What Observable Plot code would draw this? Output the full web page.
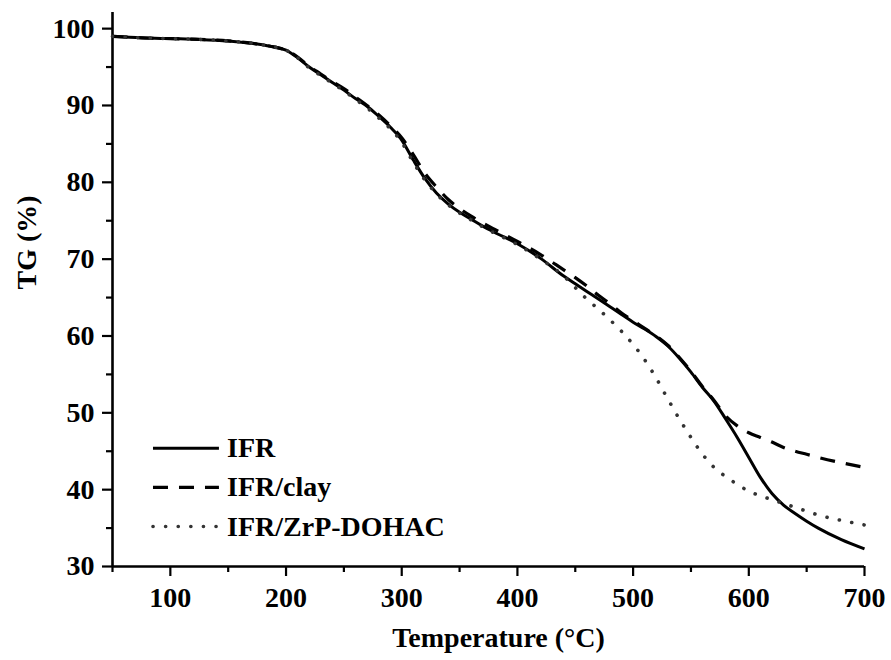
<!DOCTYPE html>
<html><head><meta charset="utf-8">
<script src="https://cdn.jsdelivr.net/npm/d3@7"></script>
<script src="https://cdn.jsdelivr.net/npm/@observablehq/plot@0.6"></script>
<style>body{margin:0;background:#fff}</style>
</head><body><div id="chart"></div>
<script>
const temps = [50,75,100,125,150,175,190,200,210,220,230,240,250,260,270,280,290,300,310,320,330,340,350,360,370,380,400,420,440,450,460,470,480,490,500,510,520,530,540,550,560,570,580,590,600,610,620,630,640,650,660,680,700];
const ifr = [99.0,98.8,98.7,98.6,98.4,98.0,97.6,97.2,96.2,95.0,94.0,93.0,92.0,90.9,89.9,88.6,87.2,85.5,82.9,80.5,78.6,77.2,76.1,75.2,74.3,73.5,72.0,70.1,67.8,66.8,65.8,64.8,63.8,62.8,61.8,60.9,59.9,58.7,57.1,55.3,53.3,51.5,49.2,46.8,44.2,41.6,39.5,38.0,36.9,35.9,35.0,33.5,32.3];
const ifrClay = [99.0,98.8,98.7,98.6,98.4,98.0,97.6,97.2,96.3,95.1,94.1,93.1,92.2,91.1,90.0,88.8,87.4,85.8,83.6,81.2,79.4,77.8,76.6,75.6,74.7,73.9,72.3,70.6,68.6,67.6,66.5,65.3,64.2,63.0,62.0,61.0,60.0,58.8,57.2,55.4,53.4,51.6,49.6,48.3,47.4,46.8,46.2,45.5,45.0,44.6,44.2,43.5,42.9];
const ifrZrp = [99.0,98.8,98.7,98.6,98.4,98.0,97.6,97.2,96.2,94.9,93.9,92.9,91.9,90.8,89.7,88.4,87.0,85.2,82.6,80.3,78.5,77.1,76.0,75.1,74.2,73.4,71.9,70.0,67.8,66.3,64.8,63.5,62.1,60.6,58.9,56.9,54.5,51.8,49.2,46.8,44.6,42.9,41.7,40.7,39.8,39.2,38.7,38.2,37.7,37.2,36.7,36.0,35.4];
const seriesNames = ["IFR", "IFR/clay", "IFR/ZrP-DOHAC"];
const xMajorTicks = [100,200,300,400,500,600,700];
const xMinorTicks = [50,150,250,350,450,550,650];
const yMajorTicks = [30,40,50,60,70,80,90,100];
const yMinorTicks = [35,45,55,65,75,85,95];
const xTitle = "Temperature (°C)";
const yTitle = "TG (%)";

const allSeries = [ifr, ifrClay, ifrZrp];
const rows = allSeries.flatMap((vals, i) => temps.map((t, j) => ({series: seriesNames[i], t, v: vals[j]})));

const styles = {
  "IFR": {stroke: "#000", strokeWidth: 3, strokeDasharray: null, strokeLinecap: "butt"},
  "IFR/clay": {stroke: "#000", strokeWidth: 3.2, strokeDasharray: "15,11", strokeLinecap: "butt"},
  "IFR/ZrP-DOHAC": {stroke: "#333", strokeWidth: 3.6, strokeDasharray: "0.1,12.5", strokeLinecap: "round"}
};

// legend layout (in chart coordinates)
const legendX = [85, 142];
const legendY = [45.4, 40.3, 35.2];
const legendRows = seriesNames.flatMap((s, i) => legendX.map(x => ({series: s, x, y: legendY[i]})));
const legendText = seriesNames.map((s, i) => ({series: s, x: 149, y: legendY[i]}));

const lineMarks = seriesNames.map(s => Plot.line(rows.filter(d => d.series === s), {x: "t", y: "v", curve: "monotone-x", ...styles[s]}));
const legendMarks = seriesNames.map(s => Plot.line(legendRows.filter(d => d.series === s), {x: "x", y: "y", ...styles[s]}));

const chart = Plot.plot({
  width: 891,
  height: 660,
  marginLeft: 112,
  marginRight: 27,
  marginTop: 12,
  marginBottom: 94,
  style: {fontFamily: "'Liberation Serif', 'Times New Roman', serif", fontWeight: "bold", fontSize: "28px", color: "#000", background: "#fff"},
  x: {domain: [50, 700]},
  y: {domain: [30, 102.1]},
  marks: [
    Plot.axisX({ticks: xMajorTicks, tickSize: 10, tickPadding: 11, strokeWidth: 2.2, label: null, fontSize: 28, fontWeight: "bold"}),
    Plot.axisX({ticks: xMinorTicks, tickSize: 6, strokeWidth: 2.2, label: null, text: null}),
    Plot.axisY({ticks: yMajorTicks, tickSize: 10, tickPadding: 8, strokeWidth: 2.2, label: null, fontSize: 28, fontWeight: "bold"}),
    Plot.axisY({ticks: yMinorTicks, tickSize: 6, strokeWidth: 2.2, label: null, text: null}),
    Plot.ruleX([50], {strokeWidth: 2.6}),
    Plot.ruleY([30], {strokeWidth: 2.6}),
    ...lineMarks,
    ...legendMarks,
    Plot.text(legendText, {x: "x", y: "y", text: "series", textAnchor: "start", fontSize: 28, fontWeight: "bold"}),
    Plot.text([xTitle], {frameAnchor: "bottom", dx: 10, dy: 80, fontSize: 28, fontWeight: "bold"}),
    Plot.text([yTitle], {frameAnchor: "left", dx: -85, rotate: -90, fontSize: 28, fontWeight: "bold"})
  ]
});
document.getElementById("chart").appendChild(chart);
</script>
</body></html>
